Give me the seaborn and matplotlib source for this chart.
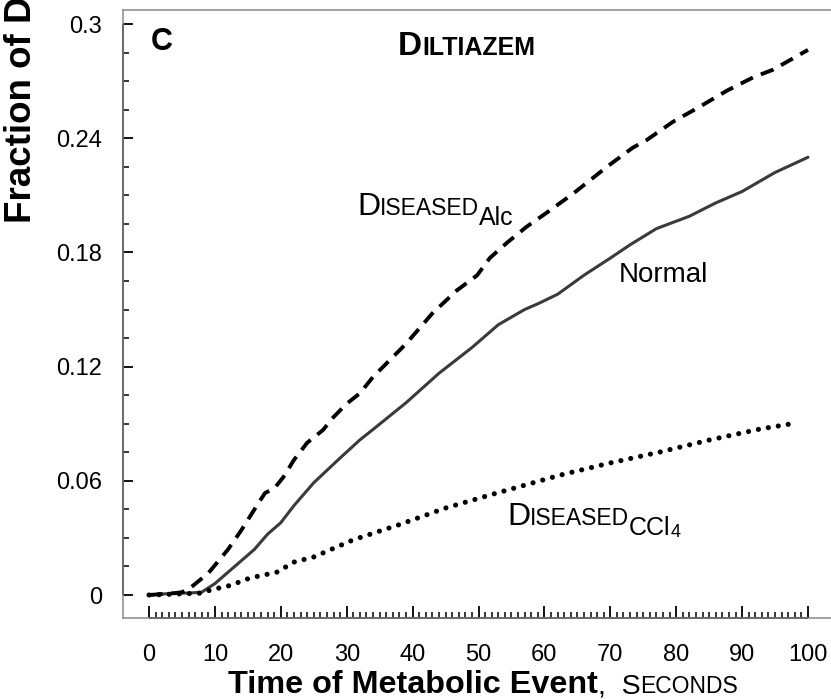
import matplotlib
matplotlib.use("Agg")
import matplotlib.pyplot as plt
import numpy as np
import pandas as pd
import seaborn as sns
from matplotlib.ticker import FixedLocator, NullFormatter

# ---------------- data ----------------
t_normal = [0, 2, 4, 6, 8, 10, 11, 14, 16, 18, 20, 22, 25, 29, 32, 34, 39, 44, 49, 53,
            57, 59, 62, 66, 70, 73, 77, 82, 86, 90, 95, 100]
y_normal = [0, 0.0005, 0.001, 0.001, 0.0015, 0.006, 0.009, 0.018, 0.024, 0.032, 0.038,
            0.047, 0.059, 0.072, 0.0815, 0.087, 0.101, 0.1165, 0.130, 0.142, 0.150, 0.153,
            0.158, 0.168, 0.177, 0.184, 0.1925, 0.199, 0.206, 0.212, 0.222, 0.230]

t_alc = [0, 2, 4, 5, 6, 9, 12, 14, 16, 17.6, 19, 20.4, 22, 24, 26.4, 28, 30, 32, 34, 39,
         43, 46.7, 49.8, 51.7, 54.3, 57.3, 60, 62.4, 64.4, 69.5, 73.4, 75.5, 79.5, 83.6,
         87.7, 91.7, 94.7, 100]
y_alc = [0, 0.0005, 0.001, 0.0015, 0.003, 0.0115, 0.024, 0.034, 0.045, 0.0536, 0.056,
         0.062, 0.071, 0.080, 0.0867, 0.0935, 0.1005, 0.106, 0.1146, 0.132, 0.148, 0.160,
         0.168, 0.177, 0.185, 0.1935, 0.200, 0.206, 0.211, 0.225, 0.235, 0.239, 0.2486,
         0.2566, 0.265, 0.272, 0.276, 0.2864]

t_ccl4 = [0, 4, 8, 9.3, 12.3, 15.3, 19.4, 22, 25, 28, 31, 38, 45, 51.7, 57.3, 62.4, 70,
          77.5, 85, 92.7, 98.3]
y_ccl4 = [0, 0.0005, 0.001, 0.0026, 0.005, 0.0089, 0.012, 0.0173, 0.020, 0.0245, 0.029,
          0.037, 0.0457, 0.0525, 0.058, 0.063, 0.0694, 0.0751, 0.0814, 0.0872, 0.0904]

x_major = [0, 10, 20, 30, 40, 50, 60, 70, 80, 90, 100]
y_major = [0, 0.06, 0.12, 0.18, 0.24, 0.3]
y_major_labels = ["0", "0.06", "0.12", "0.18", "0.24", "0.3"]

# ---------------- style ----------------
sns.set_style("white")
plt.rcParams["font.family"] = ["Liberation Sans", "DejaVu Sans"]
plt.rcParams["text.color"] = "black"
plt.rcParams["axes.labelcolor"] = "black"
plt.rcParams["xtick.color"] = "black"
plt.rcParams["ytick.color"] = "black"

W, H = 831, 699
fig = plt.figure(figsize=(W / 100, H / 100), dpi=100)
ax = fig.add_axes([123 / W, 1 - 618 / H, 713 / W, 608 / H])

sns.lineplot(x=t_normal, y=y_normal, ax=ax, color="#3a3a3a", linewidth=2.2)
sns.lineplot(x=t_alc, y=y_alc, ax=ax, color="black", linewidth=2.8)
ax.lines[-1].set_dashes([3.5, 2.2])
sns.lineplot(x=t_ccl4, y=y_ccl4, ax=ax, color="black", linewidth=3.7)
ln = ax.lines[-1]
ln.set_dashes([0.01, 1.95])
ln.set_dash_capstyle("round")

xmin, xmax = -3.95, 104.25
ymin, ymax = -0.01208, 0.30736
ax.set_xlim(xmin, xmax)
ax.set_ylim(ymin, ymax)

for s in ["left", "bottom", "top"]:
    ax.spines[s].set_color("#8a8a8a")
    ax.spines[s].set_linewidth(1.1)
ax.spines["right"].set_visible(False)

# black axis lines over the tick ranges
ax.vlines(xmin, 0, 0.3, color="black", linewidth=1.4, clip_on=False)
ax.hlines(ymin, 0, 100, color="black", linewidth=1.4, clip_on=False)

ax.xaxis.set_major_locator(FixedLocator(x_major))
ax.xaxis.set_minor_locator(FixedLocator([v for v in range(0, 101) if v % 10]))
ax.yaxis.set_major_locator(FixedLocator(y_major))
ax.set_yticklabels(y_major_labels)
ax.yaxis.set_minor_locator(FixedLocator([0.015 * k for k in range(21) if k % 4]))
ax.xaxis.set_minor_formatter(NullFormatter())
ax.yaxis.set_minor_formatter(NullFormatter())

ax.tick_params(axis="x", which="major", direction="in", length=9, width=1.3,
               color="black", labelcolor="black", labelsize=17, pad=19,
               bottom=True, top=False)
ax.tick_params(axis="x", which="minor", direction="in", length=4, width=1.1,
               color="black", bottom=True, top=False)
ax.tick_params(axis="y", which="major", direction="in", length=7, width=1.3,
               color="black", labelcolor="black", labelsize=17, pad=15,
               left=True, right=False)
ax.tick_params(axis="y", which="minor", direction="in", length=4.5, width=1.1,
               color="black", left=True, right=False)
ax.set_xlabel("")
ax.set_ylabel("")

DESC = 0.212  # descent fraction of em


def chain(x_px, y_px, pieces):
    """pieces: (text, size_pt, weight, baseline_shift_pt)"""
    last = None
    prev_size = prev_shift = 0
    for txt, size, weight, shift in pieces:
        if last is None:
            last = fig.text(x_px / W, 1 - (y_px - shift * 100 / 72) / H, txt,
                            fontsize=size, fontweight=weight, ha="left",
                            va="baseline", color="black")
        else:
            off = DESC * prev_size - prev_shift + shift
            last = ax.annotate(txt, xy=(1, 0), xycoords=last, xytext=(0, off),
                               textcoords="offset points", fontsize=size,
                               fontweight=weight, ha="left", va="baseline",
                               color="black", annotation_clip=False)
        prev_size, prev_shift = size, shift


chain(151, 50, [("C", 22, "bold", 0)])
chain(398, 55, [("D", 24, "bold", 0), ("ILTIAZEM", 18, "bold", 0)])
chain(357, 215, [("D", 23, "normal", 0), ("ISEASED", 16.5, "normal", 0),
                 ("Alc", 18, "normal", -7.2)])
chain(619, 282, [("Normal", 20, "normal", 0)])
chain(507, 525, [("D", 23, "normal", 0), ("ISEASED", 16.5, "normal", 0),
                 ("CCl", 18, "normal", -7.2), ("4", 13, "normal", -8.6)])
chain(228, 693, [("Time of Metabolic Event", 23.3, "bold", 0), (",  S", 20.5, "normal", 0),
                 ("ECONDS", 16.5, "normal", 0)])

fig.text(39 / W, 1 - 223 / H, "Fraction of Dose", rotation=90, fontsize=26.5,
         fontweight="bold", ha="right", va="bottom", color="black")

fig.savefig("out.png", dpi=100)
